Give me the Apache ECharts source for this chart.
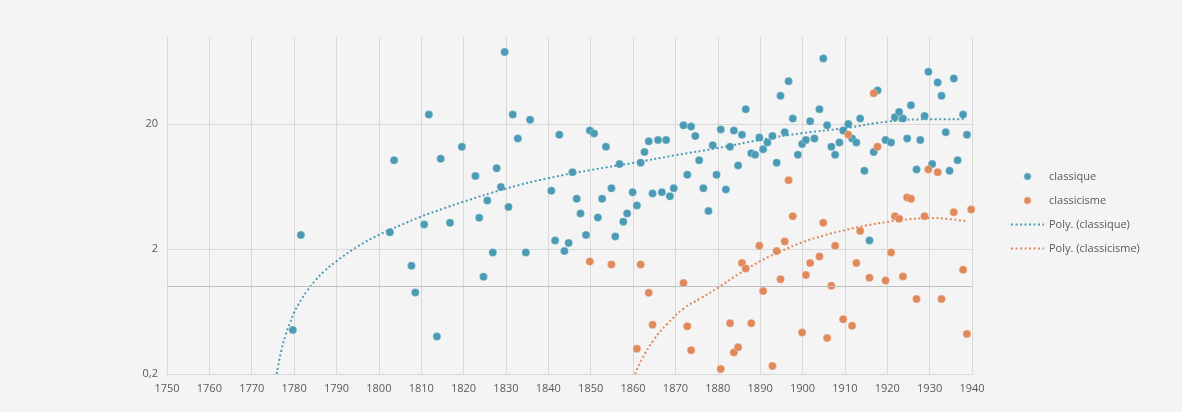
<!DOCTYPE html>
<html>
<head>
<meta charset="utf-8">
<script src="https://cdn.jsdelivr.net/npm/echarts@6/dist/echarts.min.js"></script>
<style>
html,body{margin:0;padding:0;background:#f4f4f4;}
#main{width:1182px;height:412px;}
</style>
</head>
<body>
<div id="main"></div>
<script>
// points classique
var classiqueYears = [1779.7,1781.6,1802.6,1803.6,1807.7,1808.6,1810.7,1811.8,1813.7,1814.6,1816.8,1819.6,1822.8,1823.7,1824.7,1825.6,1826.9,1827.8,1828.8,1829.7,1830.6,1831.6,1832.8,1834.7,1835.7,1840.7,1841.6,1842.6,1843.8,1844.8,1845.7,1846.7,1847.6,1848.9,1849.8,1850.8,1851.7,1852.7,1853.6,1854.9,1855.8,1856.8,1857.7,1858.6,1859.9,1860.9,1861.8,1862.7,1863.7,1864.6,1865.9,1866.8,1867.8,1868.7,1869.6,1871.9,1872.8,1873.7,1874.7,1875.6,1876.6,1877.8,1878.8,1879.7,1880.7,1881.9,1882.9,1883.8,1884.8,1885.7,1886.6,1887.9,1888.8,1889.8,1890.7,1891.7,1892.9,1893.9,1894.8,1895.8,1896.7,1897.7,1898.9,1899.9,1900.8,1901.8,1902.8,1904.0,1904.9,1905.8,1906.8,1907.7,1908.7,1909.6,1910.8,1911.7,1912.7,1913.6,1914.6,1915.8,1916.8,1917.7,1919.6,1920.9,1921.8,1922.8,1923.7,1924.7,1925.6,1926.9,1927.8,1928.8,1929.7,1930.6,1931.9,1932.8,1933.8,1934.7,1935.7,1936.6,1937.9,1938.8];
var classiqueValues = [0.45,2.6,2.73,10.3,1.47,0.9,3.15,23.9,0.4,10.6,3.25,13.2,7.7,3.56,1.2,4.9,1.88,8.9,6.3,76,4.36,23.9,15.4,1.88,21.7,5.87,2.35,16.5,1.93,2.24,8.27,5.06,3.86,2.6,17.8,16.9,3.58,5.06,13.2,6.16,2.53,9.6,3.32,3.86,5.72,4.47,9.85,12.0,14.6,5.58,15.0,5.72,15.0,5.31,6.16,19.6,7.88,19.2,16.1,10.3,6.16,4.05,13.6,7.88,18.2,6.01,13.2,17.8,9.37,16.5,26.4,11.7,11.4,15.7,12.6,14.3,16.1,9.85,33.8,17.3,44.3,22.2,11.4,13.9,15.0,21.1,15.4,26.4,67.4,19.6,13.2,11.4,14.3,17.8,20.1,15.4,14.3,22.2,8.49,2.35,12.0,37.3,15.0,14.3,22.8,25.1,22.2,15.4,28.4,8.7,15.0,23.3,52.6,9.6,43.3,33.8,17.3,8.49,46.6,10.3,23.9,16.5];

// points classicisme
var classicismeYears = [1849.8,1854.9,1860.9,1861.8,1863.7,1864.6,1871.9,1872.8,1873.7,1880.7,1882.9,1883.8,1884.8,1885.7,1886.6,1887.9,1889.8,1890.7,1892.9,1893.9,1894.8,1895.8,1896.7,1897.7,1899.9,1900.8,1901.8,1904.0,1904.9,1905.8,1906.8,1907.7,1909.6,1910.8,1911.7,1912.7,1913.6,1915.8,1916.8,1917.7,1919.6,1920.9,1921.8,1922.8,1923.7,1924.7,1925.6,1926.9,1928.8,1929.7,1931.9,1932.8,1935.7,1937.9,1938.8,1939.8];
var classicismeValues = [1.59,1.51,0.318,1.51,0.895,0.496,1.07,0.483,0.31,0.219,0.511,0.297,0.327,1.55,1.4,0.511,2.13,0.923,0.232,1.93,1.15,2.3,7.14,3.67,0.43,1.24,1.55,1.75,3.25,0.389,1.02,2.13,0.55,16.5,0.487,1.55,2.8,1.18,35.5,13.2,1.12,1.88,3.67,3.5,1.21,5.18,5.06,0.796,3.67,8.7,8.27,0.796,3.95,1.37,0.419,4.15];

// courbes de tendance
var polyClassiqueYears = [1775.9,1777,1778,1779,1780,1781,1782,1783,1785,1787,1790,1795,1800,1805,1810,1815,1820,1830,1840,1850,1860,1870,1880,1890,1900,1910,1920,1930,1938];
var polyClassiqueValues = [0.2,0.31,0.41,0.51,0.62,0.72,0.82,0.92,1.12,1.32,1.6,2.1,2.6,3.1,3.65,4.2,4.8,6.1,7.4,8.6,9.8,11.3,12.9,15.0,17.0,18.6,21.0,21.9,21.9];
var polyClassicismeYears = [1860.5,1862,1865,1868,1872,1876,1880,1885,1890,1895,1900,1905,1910,1915,1920,1925,1930,1935,1939];
var polyClassicismeValues = [0.2,0.26,0.38,0.5,0.67,0.81,0.98,1.27,1.6,1.93,2.27,2.57,2.84,3.09,3.3,3.46,3.55,3.47,3.33];

var yTicks = [0.2, 2, 20];

function pairs(xs, ys){
    var out = [];
    for(var i=0;i<xs.length;i++){
        out.push([xs[i], ys[i]]);
    }
    return out;
}

var blue = '#4b9bb5';
var orange = '#e0895b';
var noDot = {color: 'rgba(0,0,0,0)', borderWidth: 0};

var myChart = echarts.init(document.getElementById('main'));
var option = {
    backgroundColor: '#f4f4f4',
    animation: false,
    textStyle: {fontFamily: 'Open Sans'},
    grid: {left: 167, right: 210, top: 37, bottom: 38},
    legend: {
        orient: 'vertical',
        left: 1005,
        top: 166,
        itemWidth: 33,
        itemHeight: 8,
        itemGap: 13,
        textStyle: {color: '#595959', fontSize: 11},
        data: [
            {name: 'classique', icon: 'circle'},
            {name: 'classicisme', icon: 'circle'},
            {name: 'Poly. (classique)', itemStyle: noDot},
            {name: 'Poly. (classicisme)', itemStyle: noDot}
        ]
    },
    xAxis: {
        type: 'value',
        min: 1750,
        max: 1940,
        interval: 10,
        axisLine: {show: true, lineStyle: {color: '#d9d9d9'}},
        axisTick: {show: false},
        axisLabel: {
            color: '#595959', fontSize: 11, margin: 9,
            formatter: function(v){ return String(v); }
        },
        splitLine: {show: true, lineStyle: {color: '#d9d9d9'}}
    },
    yAxis: {
        type: 'log',
        logBase: 10,
        min: 0.2,
        max: 100,
        axisLine: {show: true, lineStyle: {color: '#d9d9d9'}},
        axisTick: {show: false, customValues: yTicks},
        axisLabel: {
            color: '#595959', fontSize: 11, margin: 9,
            customValues: yTicks,
            formatter: function(v){ return String(v).replace('.', ','); }
        },
        splitLine: {show: true, lineStyle: {color: '#d9d9d9'}}
    },
    series: [
        {
            name: 'classique',
            type: 'scatter',
            symbolSize: 8,
            itemStyle: {color: blue, borderColor: 'rgba(255,255,255,0.5)', borderWidth: 0.5, opacity: 1},
            data: pairs(classiqueYears, classiqueValues),
            markLine: {
                silent: true,
                symbol: 'none',
                label: {show: false},
                lineStyle: {color: '#bfbfbf', type: 'solid', width: 1},
                data: [{yAxis: 1}]
            }
        },
        {
            name: 'classicisme',
            type: 'scatter',
            symbolSize: 8,
            itemStyle: {color: orange, borderColor: 'rgba(255,255,255,0.5)', borderWidth: 0.5, opacity: 1},
            data: pairs(classicismeYears, classicismeValues)
        },
        {
            name: 'Poly. (classique)',
            type: 'line',
            smooth: true,
            showSymbol: false,
            symbol: 'none',
            lineStyle: {color: blue, width: 2, type: [2, 2.5]},
            itemStyle: {color: blue},
            data: pairs(polyClassiqueYears, polyClassiqueValues)
        },
        {
            name: 'Poly. (classicisme)',
            type: 'line',
            smooth: true,
            showSymbol: false,
            symbol: 'none',
            lineStyle: {color: orange, width: 2, type: [2, 2.5]},
            itemStyle: {color: orange},
            data: pairs(polyClassicismeYears, polyClassicismeValues)
        }
    ]
};
myChart.setOption(option);
</script>
</body>
</html>
